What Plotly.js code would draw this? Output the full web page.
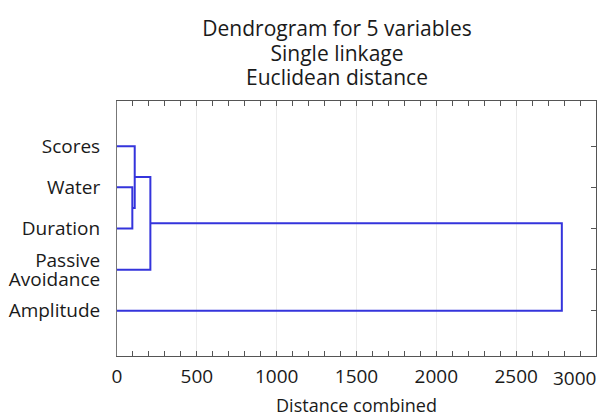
<!DOCTYPE html>
<html>
<head>
<meta charset="utf-8">
<script src="https://cdn.plot.ly/plotly-3.0.1.min.js"></script>
<style>html,body{margin:0;padding:0;background:#fff;}#chart{width:601px;height:417px;}</style>
</head>
<body>
<div id="chart"></div>
<script>
// Leaves, top to bottom
const leaves = ["Scores", "Water", "Duration", "Passive Avoidance", "Amplitude"];
// Merges: [left node, right node, distance]; nodes are leaf names or "c<i>" for earlier merges
const mergeLeft = ["Water", "Scores", "c1", "c2"];
const mergeRight = ["Duration", "c0", "Passive Avoidance", "Amplitude"];
const mergeDist = [96, 111, 209, 2786];
const xTickVals = [0, 500, 1000, 1500, 2000, 2500, 3000];
const xTickLabels = ["0", "500", "1000", "1500", "2000", "2500", "3000"];
const titleLines = ["Dendrogram for 5 variables", "Single linkage", "Euclidean distance"];

const pos = {}, height = {};
leaves.forEach((l, i) => { pos[l] = leaves.length - 1 - i; height[l] = 0; });
const xs = [], ys = [];
for (let i = 0; i < mergeDist.length; i++) {
  const a = mergeLeft[i], b = mergeRight[i], d = mergeDist[i];
  xs.push(height[a], d, d, height[b], null);
  ys.push(pos[a], pos[a], pos[b], pos[b], null);
  const c = "c" + i;
  pos[c] = (pos[a] + pos[b]) / 2;
  height[c] = d;
}

// y tick labels: multi-word leaf names are set on two tight lines
const yLabVals = [], yLabText = [];
leaves.forEach((l) => {
  const parts = l.split(" ");
  if (parts.length === 1) { yLabVals.push(pos[l]); yLabText.push(l); }
  else {
    yLabVals.push(pos[l] + 0.23, pos[l] - 0.23);
    yLabText.push(parts[0], parts.slice(1).join(" "));
  }
});

const FF = "Open Sans, sans-serif";
const tf = {family: FF, size: 19, color: "#1a1a1a"};
const af = {family: FF, size: 18, color: "#1a1a1a"};
const last = xTickVals.length - 1;
const yRange = [-1.1, 5.1];
const data = [{
  x: xs, y: ys, type: "scatter", mode: "lines",
  line: {color: "#3434dc", width: 2}, hoverinfo: "skip", showlegend: false
}, {x: [null], y: [null], yaxis: "y2", type: "scatter", mode: "lines", showlegend: false, hoverinfo: "skip"}];
const layout = {
  width: 601, height: 417,
  margin: {l: 117, r: 5, t: 101, b: 61},
  paper_bgcolor: "#fff", plot_bgcolor: "#fff",
  font: tf,
  title: {
    text: titleLines.map((t) => '<span style="font-size:21px">' + t + "</span>").join("<br>"),
    font: {family: FF, size: 19, color: "#1a1a1a"},
    x: 337 / 601, xanchor: "center", xref: "container",
    y: 1 - 36 / 417, yanchor: "top", yref: "container"
  },
  xaxis: {
    range: [0, 3000], tickvals: xTickVals,
    ticktext: xTickLabels.map((t, i) => (i === last ? "" : t)),
    showgrid: true, gridcolor: "#ececec", gridwidth: 1, zeroline: false,
    showline: true, linecolor: "#555", linewidth: 1, mirror: "ticks",
    ticks: "inside", ticklen: 5, tickcolor: "#555",
    minor: {dtick: 100, ticks: "inside", ticklen: 5, tickcolor: "#555", showgrid: false},
    tickfont: tf,
    ticklabelstandoff: 3,
    title: {text: "Distance combined", font: af, standoff: 23}
  },
  yaxis: {
    range: yRange, tickvals: yLabVals, ticktext: yLabText,
    showgrid: false, zeroline: false,
    showline: true, linecolor: "#777", linewidth: 1, mirror: true,
    ticks: "", tickfont: tf,
    ticklabelstandoff: 12
  },
  yaxis2: {
    range: yRange, overlaying: "y", side: "right",
    tickvals: leaves.map((l) => pos[l]), showticklabels: false,
    showgrid: false, zeroline: false, showline: true, linecolor: "#555", linewidth: 1,
    ticks: "inside", ticklen: 5, tickcolor: "#555"
  },
  annotations: [{
    text: xTickLabels[last], x: xTickVals[last], xref: "x", xanchor: "right", xshift: 2,
    y: 0, yref: "paper", yanchor: "top", yshift: -7, showarrow: false, font: tf
  }]
};
Plotly.newPlot("chart", data, layout, {displayModeBar: false, staticPlot: true});
</script>
</body>
</html>
